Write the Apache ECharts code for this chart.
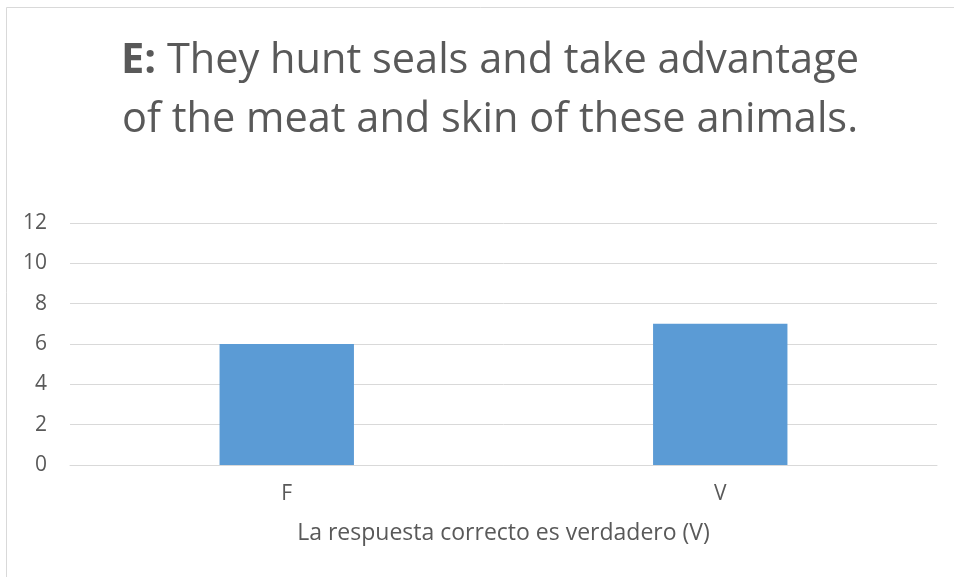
<!DOCTYPE html>
<html>
<head>
<meta charset="utf-8">
<script src="https://cdn.jsdelivr.net/npm/echarts@6/dist/echarts.min.js"></script>
<style>html,body{margin:0;padding:0;background:#fff;}#c{width:954px;height:577px;}</style>
</head>
<body>
<div id="c"></div>
<script>
const categories = ['F', 'V'];
const values = [6, 7];
const yTicks = [0, 2, 4, 6, 8, 10, 12];
const titleBold = 'E:';
const titleLine1 = ' They hunt seals and take advantage';
const titleLine2 = 'of the meat and skin of these animals.';
const xAxisName = 'La respuesta correcto es verdadero (V)';

const chart = echarts.init(document.getElementById('c'));
const font = '"Open Sans", "Noto Sans", sans-serif';
chart.setOption({
  animation: false,
  backgroundColor: '#fff',
  graphic: [{
    type: 'rect', shape: {x: 6.5, y: 7.5, width: 1200, height: 1200},
    style: {fill: 'none', stroke: '#d9d9d9', lineWidth: 1}, silent: true, z: -1
  }],
  title: {
    text: '{b|' + titleBold + '}' + titleLine1 + '\n' + titleLine2,
    left: 485, top: 27, textAlign: 'center',
    textStyle: {
      fontFamily: font, fontSize: 41.5, fontWeight: 'normal', color: '#595959', lineHeight: 59,
      rich: {b: {fontFamily: font, fontSize: 41.5, fontWeight: 'bold', color: '#595959', lineHeight: 59}}
    }
  },
  grid: {left: 70, right: 17, top: 223, bottom: 112},
  xAxis: {
    type: 'category', data: categories,
    axisLine: {show: true, lineStyle: {color: '#d9d9d9', width: 1}},
    axisTick: {show: false},
    axisLabel: {color: '#595959', fontFamily: font, fontSize: 21, margin: 19},
    name: xAxisName, nameLocation: 'middle', nameGap: 57,
    nameTextStyle: {color: '#595959', fontFamily: font, fontSize: 23}
  },
  yAxis: {
    type: 'value', min: yTicks[0], max: yTicks[yTicks.length - 1], interval: 2,
    axisLine: {show: false}, axisTick: {show: false},
    splitLine: {lineStyle: {color: '#d9d9d9', width: 1}},
    axisLabel: {color: '#595959', fontFamily: font, fontSize: 21, margin: 23}
  },
  series: [{
    type: 'bar', data: values, barWidth: '31%',
    itemStyle: {color: '#5b9bd5'}
  }]
});
</script>
</body>
</html>
